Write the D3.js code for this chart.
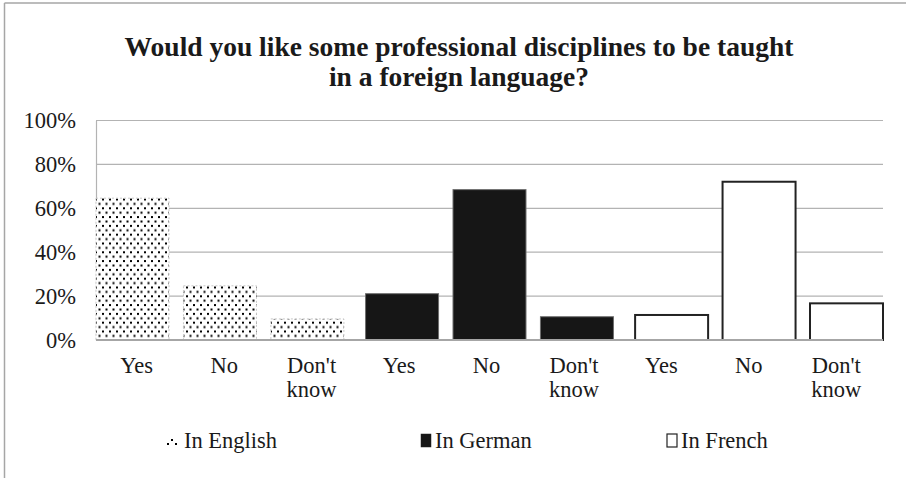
<!DOCTYPE html>
<html>
<head>
<meta charset="utf-8">
<script src="https://cdn.jsdelivr.net/npm/d3@7"></script>
<style>
  body { margin: 0; background: #fff; }
  svg text { font-family: "Liberation Serif", "DejaVu Serif", serif !important; fill: #1a1a1a; }
</style>
</head>
<body>
<div id="chart"></div>
<script>
// data
const categories = ["Yes", "No", "Don't know", "Yes", "No", "Don't know", "Yes", "No", "Don't know"];
const seriesNames = ["In English", "In German", "In French"];
const english = [64.6, 24.7, 9.6];
const german = [21.1, 68.5, 10.6];
const french = [11.4, 72.1, 16.7];
const yTicks = [0, 20, 40, 60, 80, 100];

const width = 906, height = 478;
const margin = {top: 120.5, right: 23, bottom: 138, left: 96};
const fontSize = 22.5;

const svg = d3.select("#chart").append("svg")
  .attr("width", width)
  .attr("height", height)
  .attr("font-family", "Liberation Serif, serif");

function label(parent, x, y, str, size, anchor) {
  return parent.append("text")
    .attr("x", x).attr("y", y)
    .attr("text-anchor", anchor || "middle")
    .attr("font-family", "Liberation Serif, serif")
    .attr("font-size", size)
    .text(str);
}

// dotted fill for the English bars
const defs = svg.append("defs");
const pat = defs.append("pattern")
  .attr("id", "dots")
  .attr("patternUnits", "userSpaceOnUse")
  .attr("width", 7).attr("height", 8.8);
pat.append("rect").attr("width", 7).attr("height", 8.8).attr("fill", "#fff");
pat.append("rect").attr("x", 0.5).attr("y", 0.5).attr("width", 2).attr("height", 2).attr("fill", "#000");
pat.append("rect").attr("x", 4).attr("y", 4.9).attr("width", 2).attr("height", 2).attr("fill", "#000");

// chart border (only top and left show in the crop)
svg.append("line").attr("x1", 4.5).attr("x2", width).attr("y1", 3).attr("y2", 3)
  .attr("stroke", "#a6a6a6").attr("stroke-width", 1.5);
svg.append("line").attr("x1", 4.5).attr("x2", 4.5).attr("y1", 3).attr("y2", height)
  .attr("stroke", "#a6a6a6").attr("stroke-width", 1.5);

// title
label(svg, 459, 56, "Would you like some professional disciplines to be taught", 27.5, "middle")
  .attr("font-weight", "bold");
label(svg, 459, 86, "in a foreign language?", 27.5, "middle")
  .attr("font-weight", "bold");

const x = d3.scaleBand()
  .domain(d3.range(categories.length))
  .range([margin.left, width - margin.right])
  .paddingInner(0).paddingOuter(0);

const y = d3.scaleLinear()
  .domain([0, 100])
  .range([height - margin.bottom, margin.top]);

// gridlines
svg.append("g")
  .selectAll("line")
  .data(yTicks.filter(d => d > 0))
  .join("line")
  .attr("x1", margin.left).attr("x2", width - margin.right)
  .attr("y1", d => y(d)).attr("y2", d => y(d))
  .attr("stroke", "#b3b3b3").attr("stroke-width", 1.2);

// y axis
const yAxis = svg.append("g")
  .attr("transform", `translate(${margin.left},0)`)
  .call(d3.axisLeft(y).tickValues(yTicks).tickFormat(d => d + "%").tickSize(0).tickPadding(20));
yAxis.attr("font-family", "Liberation Serif, serif").attr("font-size", fontSize);
yAxis.select(".domain").attr("stroke", "#b3b3b3").attr("stroke-width", 1.2);
yAxis.selectAll("text").attr("dy", "0.33em").attr("fill", "#1a1a1a");

// bars: one cluster slot per category, series shifted inside it
const barW = 73;
const shift = (x.bandwidth() - barW) / 2;
const bars = [];
[english, german, french].forEach((vals, s) => {
  vals.forEach((v, i) => {
    bars.push({series: s, idx: s * 3 + i, value: v});
  });
});

const fills = ["url(#dots)", "#161616", "#fff"];
const strokes = ["#c8c8c8", "#6e6e6e", "#222"];
const strokeW = [1, 1, 2];
const dashes = ["2,2", null, null];

svg.append("g")
  .selectAll("rect")
  .data(bars)
  .join("rect")
  .attr("x", d => x(d.idx) + d.series * shift)
  .attr("y", d => y(d.value))
  .attr("width", barW)
  .attr("height", d => y(0) - y(d.value))
  .attr("fill", d => fills[d.series])
  .attr("stroke", d => strokes[d.series])
  .attr("stroke-width", d => strokeW[d.series])
  .attr("stroke-dasharray", d => dashes[d.series]);

// x axis line
svg.append("line")
  .attr("x1", margin.left).attr("x2", width - margin.right)
  .attr("y1", y(0)).attr("y2", y(0))
  .attr("stroke", "#a6a6a6").attr("stroke-width", 1.8);

// category labels, wrapped like the original
const catG = svg.append("g");
categories.forEach((c, i) => {
  const words = c === "Don't know" ? ["Don't", "know"] : [c];
  words.forEach((w, k) => {
    label(catG, x(i) + x.bandwidth() / 2 - 3, 373 + k * 24, w, fontSize);
  });
});

// legend
const legendX = [166, 420, 666];
const lg = svg.append("g");
seriesNames.forEach((n, s) => {
  const g = lg.append("g").attr("transform", `translate(${legendX[s]},448)`);
  if (s === 0) {
    g.append("rect").attr("x", 1).attr("y", -5).attr("width", 2).attr("height", 2).attr("fill", "#000");
    g.append("rect").attr("x", 5).attr("y", -9).attr("width", 2).attr("height", 2).attr("fill", "#000");
    g.append("rect").attr("x", 9).attr("y", -5).attr("width", 2).attr("height", 2).attr("fill", "#000");
  } else {
    g.append("rect").attr("x", 1).attr("y", -14).attr("width", 10).attr("height", 13)
      .attr("fill", fills[s]).attr("stroke", "#222").attr("stroke-width", s === 2 ? 1.2 : 0.5);
  }
  label(g, s === 0 ? 18 : 15, 0, n, fontSize, "start");
});
</script>
</body>
</html>
